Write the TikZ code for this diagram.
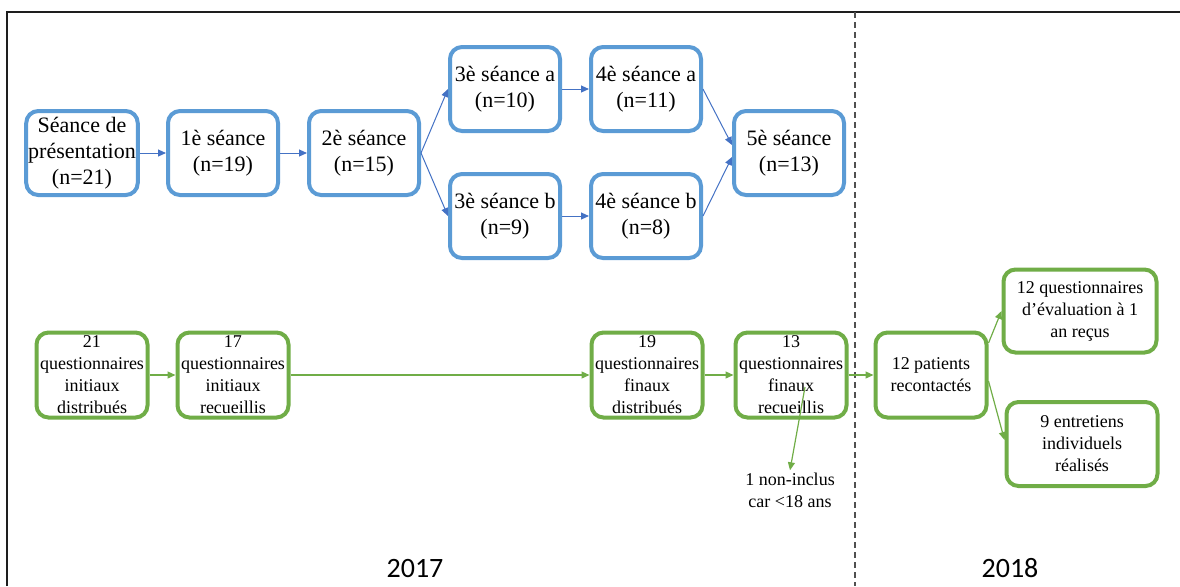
\documentclass[tikz,border=0pt]{standalone}
\usepackage{fontspec}
\setmainfont{Liberation Serif}
\newfontfamily\yearfont{Carlito}
\definecolor{SeanceColor}{RGB}{91,155,213}
\definecolor{SeanceArrow}{RGB}{68,114,196}
\definecolor{QuestColor}{RGB}{112,173,71}
\definecolor{FrameColor}{RGB}{30,30,30}
\definecolor{SplitColor}{RGB}{80,80,80}
\usetikzlibrary{positioning, arrows.meta}
\tikzstyle{seance} = [rectangle, rounded corners=6pt, draw=SeanceColor, line width=2pt, fill=white, minimum width=55pt, minimum height=42pt, inner sep=1pt, align=center, font=\rmfamily\fontsize{11}{13}\selectfont]
\tikzstyle{quest} = [rectangle, rounded corners=6pt, draw=QuestColor, line width=2pt, fill=white, minimum width=55.5pt, minimum height=42.5pt, inner sep=0pt, align=center, font=\rmfamily\fontsize{9}{11}\selectfont]
\tikzstyle{barrow} = [SeanceArrow, line width=0.5pt, -{Triangle[length=4pt,width=3.5pt]}]
\tikzstyle{garrow} = [QuestColor, line width=0.6pt, -{Triangle[length=4pt,width=3.5pt]}]
\tikzstyle{year} = [font=\yearfont\fontsize{14}{16}\selectfont, inner sep=1pt]

\begin{document}
\begin{tikzpicture}[x=0.5pt, y=-0.5pt]
            \useasboundingbox (0,0) rectangle (1180,586);
            % Frame
            \draw[FrameColor, line width=0.8pt] (7,586) -- (7,12) -- (1180,12);
            \draw[SplitColor, line width=0.8pt, dash pattern=on 3pt off 2pt] (855,12) -- (855,586);

            % Seances
            \node[seance] (pres) at (82,153) {Séance de\\présentation\\(n=21)};
            \node[seance] (s1) at (223,153) {1è séance\\(n=19)};
            \node[seance] (s2) at (364,153) {2è séance\\(n=15)};
            \node[seance] (s3a) at (505,89) {3è séance a\\(n=10)};
            \node[seance] (s3b) at (505,216) {3è séance b\\(n=9)};
            \node[seance] (s4a) at (646,89) {4è séance a\\(n=11)};
            \node[seance] (s4b) at (646,216) {4è séance b\\(n=8)};
            \node[seance] (s5) at (789,153) {5è séance\\(n=13)};
            \draw[barrow] (pres) -- (s1);
            \draw[barrow] (s1) -- (s2);
            \draw[barrow] (s2.east) -- (s3a.west);
            \draw[barrow] (s2.east) -- (s3b.west);
            \draw[barrow] (s3a) -- (s4a);
            \draw[barrow] (s3b) -- (s4b);
            \draw[barrow] (s4a.east) -- ([yshift=4pt]s5.west);
            \draw[barrow] (s4b.east) -- ([yshift=-2pt]s5.west);

            % Questionnaires
            \node[quest] (q21) at (92,375) {21\\questionnaires\\initiaux\\distribués};
            \node[quest] (q17) at (233,375) {17\\questionnaires\\initiaux\\recueillis};
            \node[quest] (q19) at (647,375) {19\\questionnaires\\finaux\\distribués};
            \node[quest] (q13) at (791,375) {13\\questionnaires\\finaux\\recueillis};
            \node[quest] (pat12) at (931,375) {12 patients\\recontactés};
            \node[quest, minimum width=76.5pt, minimum height=41.5pt] (eval12) at (1080,311) {12 questionnaires\\d’évaluation à 1\\an reçus};
            \node[quest, minimum width=75.5pt, minimum height=42pt] (ent9) at (1082,444) {9 entretiens\\individuels\\réalisés};
            \node[align=center, inner sep=1pt, font=\rmfamily\fontsize{9}{11}\selectfont] (nonincl) at (790,490) {1 non-inclus\\car <18 ans};
            \draw[garrow] (q21) -- (q17);
            \draw[garrow] (q17) -- (q19);
            \draw[garrow] (q19) -- (q13);
            \draw[garrow] (q13) -- (pat12);
            \draw[garrow] ([yshift=16pt]pat12.east) -- (eval12.west);
            \draw[garrow] ([yshift=-3pt]pat12.east) -- ([yshift=2pt]ent9.west);
            \draw[garrow] ([xshift=7pt, yshift=-6pt]q13.center) -- (nonincl.north);

            % Years
            \node[year] (y2017) at (415,568) {2017};
            \node[year] (y2018) at (1010,568) {2018};
        \end{tikzpicture}
\end{document}
